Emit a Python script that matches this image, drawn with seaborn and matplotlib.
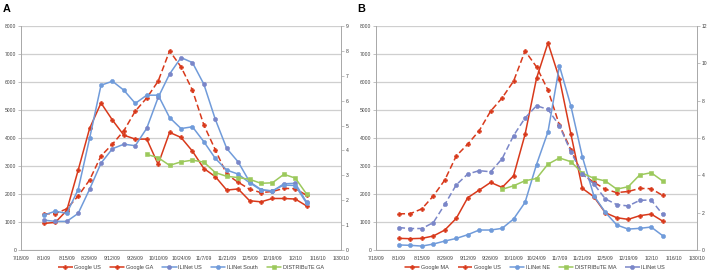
import matplotlib
matplotlib.use('Agg')
import matplotlib.pyplot as plt
import seaborn as sns
import pandas as pd

# weekly dates of the series (week ending)
week_labels = ["8/1/09", "8/8/09", "8/15/09", "8/22/09", "8/29/09", "9/5/09", "9/12/09",
               "9/19/09", "9/26/09", "10/3/09", "10/10/09", "10/17/09", "10/24/09",
               "10/31/09", "11/7/09", "11/14/09", "11/21/09", "11/28/09", "12/5/09",
               "12/12/09", "12/19/09", "12/26/09", "1/2/10", "1/9/10"]
tick_labels = ["7/18/09", "8/1/09", "8/15/09", "8/29/09", "9/12/09", "9/26/09", "10/10/09",
               "10/24/09", "11/7/09", "11/21/09", "12/5/09", "12/19/09", "1/2/10",
               "1/16/10", "1/30/10"]

# Google Flu Trends (ILI per 100,000) - left axis
google_us = [1290, 1300, 1470, 1930, 2500, 3360, 3780, 4260, 4960, 5430, 6030, 7110,
             6540, 5710, 4460, 3580, 2700, 2420, 2170, 2050, 2090, 2200, 2190, 1950]
google_ga = [950, 985, 1410, 2850, 4340, 5250, 4640, 4100, 3960, 3960, 3060, 4200,
             4020, 3530, 2910, 2620, 2140, 2180, 1760, 1720, 1840, 1840, 1820, 1570]
google_ma = [416, 404, 416, 500, 713, 1130, 1867, 2140, 2414, 2235, 2652, 4126,
             6130, 7396, 6124, 4138, 2200, 1903, 1332, 1153, 1094, 1225, 1284, 1034]

# ILINet / DISTRIBuTE (% ILI) - right axis
ilinet_us = [1.20, 1.15, 1.15, 1.47, 2.44, 3.49, 4.07, 4.25, 4.19, 4.89, 6.13, 7.07,
             7.73, 7.53, 6.66, 5.25, 4.08, 3.54, 2.74, 2.43, 2.36, 2.66, 2.68, 1.91]
ilinet_south = [1.40, 1.56, 1.47, 2.43, 4.48, 6.62, 6.78, 6.42, 5.89, 6.22, 6.22, 5.32,
                4.88, 4.95, 4.35, 3.68, 3.21, 3.05, 2.70, 2.41, 2.38, 2.61, 2.59, 1.87]
ilinet_ne = [0.27, 0.25, 0.21, 0.32, 0.48, 0.62, 0.82, 1.07, 1.07, 1.16, 1.66, 2.55,
             4.58, 6.33, 9.86, 7.71, 4.99, 2.91, 2.02, 1.34, 1.12, 1.16, 1.23, 0.77]
# DISTRIBuTE starts on 10/3/09
distribute_ga = [3.84, 3.71, 3.40, 3.54, 3.61, 3.53, 3.11, 2.96, 2.91, 2.84, 2.68, 2.70,
                 3.04, 2.89, 2.24]
distribute_ma = [3.25, 3.44, 3.71, 3.83, 4.60, 4.93, 4.73, 4.12, 3.84, 3.70, 3.26, 3.39,
                 4.02, 4.14, 3.70]

weeks = pd.to_datetime(week_labels, format="%m/%d/%y")
ticks = pd.to_datetime(tick_labels, format="%m/%d/%y")

red = "#D8391B"
blue = "#709BDA"
blue_dark = "#7A86C8"
green = "#9CC95C"
grey_txt = "#404040"
grey_ax = "#A8A8A8"
grid_c = "#CFCFCF"

sns.set_theme(style="white")
plt.rcParams['font.family'] = ['Liberation Sans', 'DejaVu Sans']

FS = 3.6
DASH = (0, (4, 2))

fig = plt.figure(figsize=(7.1, 2.75), dpi=100)
fig.patch.set_facecolor("white")


def draw_series(ax, name, values, color, marker, mfc, ls):
    x = weeks[len(weeks) - len(values):]
    df = pd.DataFrame({"week": x, "value": values})
    sns.lineplot(data=df, x="week", y="value", ax=ax, color=color, linewidth=1.1,
                 linestyle=ls, marker=marker, markersize=3.0, markerfacecolor=mfc,
                 markeredgecolor=mfc, markeredgewidth=0.4, label=name)


def draw_panel(rect, letter, left_series, right_series, right_max, right_step, order,
               legend_x):
    ax = fig.add_axes(rect)
    ax2 = ax.twinx()
    ax.set_zorder(ax2.get_zorder() - 1)
    ax2.patch.set_visible(False)

    for s in left_series:
        draw_series(ax, *s)
    for s in right_series:
        draw_series(ax2, *s)

    ax.set_xlim(ticks[0], ticks[-1])
    ax.set_ylim(0, 8000)
    ax2.set_ylim(0, right_max)
    ax.set_yticks(range(0, 8001, 1000))
    ax2.set_yticks(range(0, right_max + 1, right_step))
    ax.set_xticks(ticks)
    ax.set_xticklabels(tick_labels)

    ax.grid(axis="y", color=grid_c, linewidth=0.9)
    ax.grid(axis="x", visible=False)
    for a in (ax, ax2):
        a.set_xlabel("")
        a.set_ylabel("")
        for sp in a.spines.values():
            sp.set_visible(False)
        a.tick_params(labelsize=FS, colors=grey_txt, length=2, width=0.5, pad=1.5)
        a.tick_params(axis="both", color=grey_ax)
        if a.get_legend() is not None:
            a.get_legend().remove()
    ax.spines["left"].set_visible(True)
    ax.spines["bottom"].set_visible(True)
    ax2.spines["right"].set_visible(True)
    for sp in (ax.spines["left"], ax.spines["bottom"], ax2.spines["right"]):
        sp.set_color(grey_ax)
        sp.set_linewidth(0.7)
    ax.tick_params(axis="x", pad=2.5)

    handles = {}
    for a in (ax, ax2):
        h, l = a.get_legend_handles_labels()
        handles.update(dict(zip(l, h)))
    fig.legend([handles[n] for n in order], order, loc="center",
               bbox_to_anchor=(legend_x, 0.026), ncol=len(order), frameon=False,
               fontsize=4.0, handlelength=2.6, handletextpad=0.3, columnspacing=1.6,
               labelcolor=grey_txt)

    fig.text(rect[0] - 0.026, 0.955, letter, fontsize=7.8, fontweight="bold",
             color="black", va="baseline", ha="left")
    return ax


draw_panel([0.0296, 0.0909, 0.4507, 0.8146], "A",
           [("Google US", google_us, red, "P", red, DASH),
            ("Google GA", google_ga, red, "P", red, "-")],
           [("ILINet US", ilinet_us, blue, "o", blue_dark, "-"),
            ("ILINet South", ilinet_south, blue, "o", blue, "-"),
            ("DISTRIBuTE GA", distribute_ga, green, "s", green, "-")],
           9, 1,
           ["Google US", "Google GA", "ILINet US", "ILINet South", "DISTRIBuTE GA"],
           0.269)

draw_panel([0.5296, 0.0909, 0.4521, 0.8146], "B",
           [("Google MA", google_ma, red, "P", red, "-"),
            ("Google US", google_us, red, "P", red, DASH)],
           [("ILINet NE", ilinet_ne, blue, "o", blue, "-"),
            ("DISTRIBuTE MA", distribute_ma, green, "s", green, "-"),
            ("ILINet US", ilinet_us, blue_dark, "o", blue_dark, DASH)],
           12, 2,
           ["Google MA", "Google US", "ILINet NE", "DISTRIBuTE MA", "ILINet US"],
           0.7535)

fig.savefig("out.png", dpi=100, facecolor="white")
